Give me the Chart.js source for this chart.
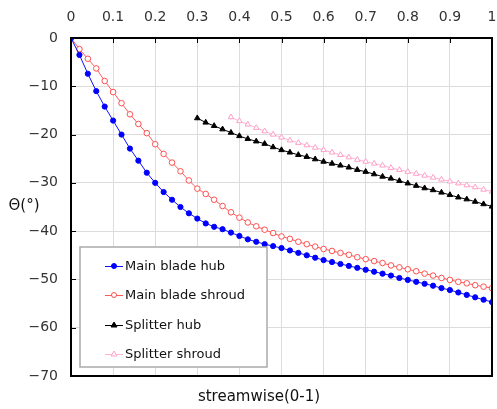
<!DOCTYPE html>
<html lang="en">
<head>
<meta charset="utf-8"/>
<title>Blade angle along streamwise</title>
<script src="https://cdn.jsdelivr.net/npm/chart.js"></script>
<style>
  body { margin: 0; background: #fff; }
  canvas { display: block; }
</style>
</head>
<body>
<canvas id="grafico" width="497" height="409"></canvas>
<script>
  // streamwise positions (0-1) for the main blade curves
  const mainX = [0,0.02,0.04,0.06,0.08,0.10,0.12,0.14,0.16,0.18,0.20,0.22,0.24,0.26,0.28,0.30,0.32,0.34,0.36,0.38,
    0.40,0.42,0.44,0.46,0.48,0.50,0.52,0.54,0.56,0.58,0.60,0.62,0.64,0.66,0.68,0.70,0.72,0.74,0.76,0.78,
    0.80,0.82,0.84,0.86,0.88,0.90,0.92,0.94,0.96,0.98,1.00];
  const mainHub = [0,-3.5,-7.4,-11.0,-14.2,-17.1,-20.0,-22.9,-25.4,-27.9,-30.0,-31.9,-33.5,-35.0,-36.3,-37.4,-38.4,-39.1,-39.6,-40.3,
    -41.0,-41.7,-42.2,-42.7,-43.1,-43.5,-44.0,-44.5,-45.0,-45.5,-46.0,-46.4,-46.8,-47.2,-47.6,-48.0,-48.4,-48.8,-49.2,-49.7,
    -50.1,-50.5,-50.9,-51.3,-51.8,-52.2,-52.7,-53.2,-53.7,-54.2,-54.7];
  const mainShroud = [0,-2.3,-4.3,-6.3,-8.9,-11.2,-13.5,-15.8,-17.8,-19.7,-22.0,-24.0,-25.8,-27.6,-29.5,-31.2,-32.3,-33.5,-34.8,-36.1,
    -37.2,-38.2,-39.0,-39.7,-40.4,-41.1,-41.6,-42.2,-42.7,-43.2,-43.7,-44.1,-44.5,-44.9,-45.4,-45.8,-46.2,-46.6,-47.1,-47.5,
    -47.9,-48.3,-48.8,-49.2,-49.7,-50.1,-50.5,-50.8,-51.2,-51.5,-51.8];

  // splitter blade starts further downstream
  const splitHubX = [0.30,0.32,0.34,0.36,0.38,0.40,0.42,0.44,0.46,0.48,0.50,0.52,0.54,0.56,0.58,0.60,0.62,0.64,
    0.66,0.68,0.70,0.72,0.74,0.76,0.78,0.80,0.82,0.84,0.86,0.88,0.90,0.92,0.94,0.96,0.98,1.00];
  const splitHub = [-16.6,-17.5,-18.2,-18.9,-19.6,-20.3,-20.9,-21.4,-21.9,-22.6,-23.2,-23.7,-24.2,-24.6,-25.1,-25.6,-26.0,-26.4,
    -26.8,-27.3,-27.7,-28.2,-28.7,-29.1,-29.6,-30.1,-30.6,-31.1,-31.5,-32.0,-32.5,-33.0,-33.4,-33.9,-34.4,-34.9];
  const splitShroudX = [0.38,0.40,0.42,0.44,0.46,0.48,0.50,0.52,0.54,0.56,0.58,0.60,0.62,0.64,0.66,0.68,
    0.70,0.72,0.74,0.76,0.78,0.80,0.82,0.84,0.86,0.88,0.90,0.92,0.94,0.96,0.98,1.00];
  const splitShroud = [-16.4,-17.2,-17.9,-18.6,-19.3,-20.0,-20.6,-21.2,-21.7,-22.2,-22.7,-23.2,-23.7,-24.2,-24.7,-25.2,
    -25.6,-26.0,-26.4,-26.9,-27.3,-27.7,-28.1,-28.5,-28.9,-29.3,-29.7,-30.1,-30.5,-30.9,-31.4,-31.8];

  const xTicks = [0,0.1,0.2,0.3,0.4,0.5,0.6,0.7,0.8,0.9,1];
  const yTicks = [0,-10,-20,-30,-40,-50,-60,-70];

  const fonte = '"DejaVu Sans", Arial, sans-serif';

  function pares(xs, ys) {
    return xs.map((x, i) => ({ x: x, y: ys[i] }));
  }

  // frame, inward tick marks, axis titles and the boxed legend
  const moldura = {
    id: 'moldura',
    afterDatasetsDraw(chart) {
      const ctx = chart.ctx;
      const a = chart.chartArea;
      const sx = chart.scales.x, sy = chart.scales.y;
      ctx.save();
      ctx.strokeStyle = '#000';
      ctx.lineWidth = 1;
      xTicks.forEach(v => {
        const px = Math.round(sx.getPixelForValue(v)) + 0.5;
        ctx.beginPath(); ctx.moveTo(px, a.top); ctx.lineTo(px, a.top + 5); ctx.stroke();
      });
      yTicks.forEach(v => {
        const py = Math.round(sy.getPixelForValue(v)) + 0.5;
        ctx.beginPath(); ctx.moveTo(a.left, py); ctx.lineTo(a.left + 5, py); ctx.stroke();
      });
      ctx.lineWidth = 2;
      ctx.strokeRect(a.left, a.top, a.right - a.left, a.bottom - a.top);

      // legend box
      const bx = 80, by = 247, bw = 187, bh = 120;
      ctx.fillStyle = '#fff';
      ctx.fillRect(bx, by, bw, bh);
      ctx.strokeStyle = '#aaa';
      ctx.lineWidth = 1.5;
      ctx.strokeRect(bx, by, bw, bh);
      const linhas = [266, 295, 325, 354];
      chart.data.datasets.forEach((ds, i) => {
        const y = linhas[i];
        ctx.strokeStyle = ds.borderColor;
        ctx.lineWidth = 1;
        ctx.beginPath(); ctx.moveTo(105, y + 0.5); ctx.lineTo(123, y + 0.5); ctx.stroke();
        ctx.fillStyle = ds.pointBackgroundColor;
        ctx.strokeStyle = ds.pointBorderColor;
        ctx.beginPath();
        if (ds.pointStyle === 'circle') {
          ctx.arc(114, y, 2.5, 0, Math.PI * 2);
        } else {
          ctx.moveTo(114, y - 3); ctx.lineTo(117, y + 2); ctx.lineTo(111, y + 2); ctx.closePath();
        }
        ctx.fill(); ctx.stroke();
        ctx.fillStyle = '#111';
        ctx.font = '13px ' + fonte;
        ctx.textBaseline = 'middle';
        ctx.textAlign = 'left';
        ctx.fillText(ds.label, 125, y + 1);
      });

      // axis titles
      ctx.fillStyle = '#111';
      ctx.font = '15px ' + fonte;
      ctx.textAlign = 'center';
      ctx.textBaseline = 'middle';
      ctx.fillText('\u0398(\u00b0)', 24, 206);
      ctx.fillText('streamwise(0-1)', 259, 397);
      ctx.restore();
    }
  };

  new Chart(document.getElementById('grafico').getContext('2d'), {
    type: 'line',
    data: {
      datasets: [
        { label: 'Main blade hub', data: pares(mainX, mainHub),
          borderColor: '#1010ff', backgroundColor: '#1010ff',
          pointStyle: 'circle', pointRadius: 2.6, pointBackgroundColor: '#0000ff', pointBorderColor: '#0000ff' },
        { label: 'Main blade shroud', data: pares(mainX, mainShroud),
          borderColor: '#ff5a5a', backgroundColor: '#ff5a5a',
          pointStyle: 'circle', pointRadius: 2.8, pointBackgroundColor: '#fff', pointBorderColor: '#ff5050' },
        { label: 'Splitter hub', data: pares(splitHubX, splitHub),
          borderColor: '#000', backgroundColor: '#000',
          pointStyle: 'triangle', pointRadius: 3.2, pointBackgroundColor: '#000', pointBorderColor: '#000' },
        { label: 'Splitter shroud', data: pares(splitShroudX, splitShroud),
          borderColor: '#ffb4d2', backgroundColor: '#ffb4d2',
          pointStyle: 'triangle', pointRadius: 3.2, pointBackgroundColor: '#fff', pointBorderColor: '#ffa0c8' }
      ]
    },
    options: {
      responsive: false,
      animation: false,
      elements: { line: { borderWidth: 1, tension: 0 }, point: { borderWidth: 1 } },
      layout: { padding: { left: 0, top: 0, right: 0, bottom: 33 } },
      plugins: { legend: { display: false }, tooltip: { enabled: false } },
      scales: {
        x: {
          type: 'linear', position: 'top', min: 0, max: 1,
          afterFit: s => { s.height = 38; s.paddingLeft = 0; s.paddingRight = 0; },
          afterBuildTicks: s => { s.ticks = xTicks.map(v => ({ value: v })); },
          grid: { color: '#dcdcdc', drawTicks: false },
          border: { display: false },
          ticks: { color: '#333', padding: 12, font: { size: 14, family: fonte },
                   callback: v => String(v) }
        },
        y: {
          type: 'linear', min: -70, max: 0,
          afterFit: s => { s.width = 71; s.paddingTop = 0; s.paddingBottom = 0; },
          afterBuildTicks: s => { s.ticks = yTicks.map(v => ({ value: v })); },
          grid: { color: '#dcdcdc', drawTicks: false },
          border: { display: false },
          ticks: { color: '#333', padding: 13, font: { size: 14, family: fonte },
                   callback: v => String(v).replace('-', '\u2212') }
        }
      }
    },
    plugins: [moldura]
  });
</script>
</body>
</html>
